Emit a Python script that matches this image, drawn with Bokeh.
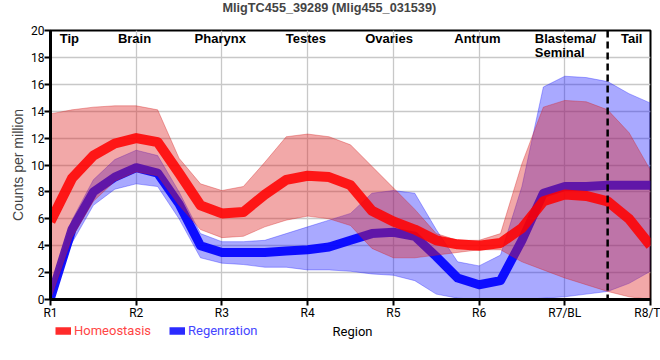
from bokeh.plotting import figure
from bokeh.layouts import column
from bokeh.models import ColumnDataSource, Legend, LegendItem, FixedTicker, Span
from bokeh.core.properties import value
from bokeh.embed import file_html
from bokeh.resources import INLINE

# ---- data ----
positions = [1.0, 1.25, 1.5, 1.75, 2.0, 2.25, 2.5, 2.75, 3.0, 3.25, 3.5, 3.75, 4.0, 4.25,
             4.5, 4.75, 5.0, 5.25, 5.5, 5.75, 6.0, 6.25, 6.5, 6.75, 7.0, 7.25, 7.5, 7.75, 8.0]

homeo_mean = [5.8, 9.0, 10.7, 11.6, 12.0, 11.7, 9.4, 7.0, 6.4, 6.5, 7.8, 8.9, 9.2, 9.1,
              8.5, 6.6, 5.8, 5.2, 4.4, 4.1, 4.0, 4.2, 5.3, 7.3, 7.8, 7.7, 7.3, 6.0, 4.0]
homeo_hi = [13.8, 14.1, 14.3, 14.4, 14.4, 14.1, 10.5, 8.6, 8.1, 8.4, 10.2, 12.1, 12.3, 12.1,
            11.5, 9.9, 8.3, 6.7, 4.9, 4.4, 4.4, 4.9, 10.1, 14.3, 14.8, 14.7, 14.1, 12.4, 9.6]
homeo_lo = [0.0, 4.6, 7.3, 8.8, 9.5, 9.2, 7.0, 5.2, 4.6, 4.7, 5.4, 5.9, 6.2, 6.0,
            5.5, 3.8, 3.1, 3.1, 3.3, 3.5, 3.7, 3.7, 2.8, 2.2, 1.6, 1.1, 0.6, 0.2, 0.0]

regen_mean = [0.1, 5.2, 8.0, 9.1, 9.8, 9.4, 7.1, 4.0, 3.5, 3.5, 3.5, 3.6, 3.7, 3.9,
              4.4, 4.9, 5.0, 4.7, 3.2, 1.6, 1.1, 1.4, 4.4, 7.9, 8.4, 8.4, 8.5, 8.5, 8.5]
regen_hi = [0.4, 5.9, 8.9, 10.4, 11.1, 10.7, 8.0, 4.9, 4.3, 4.3, 4.4, 4.9, 5.4, 5.9,
            6.4, 7.9, 8.1, 7.9, 5.2, 2.8, 2.5, 3.3, 8.4, 15.8, 16.6, 16.5, 16.2, 15.3, 14.6]
regen_lo = [0.0, 4.2, 7.0, 8.2, 8.6, 8.4, 6.0, 3.1, 2.7, 2.6, 2.4, 2.4, 2.2, 2.2,
            2.1, 1.9, 1.8, 1.4, 0.4, 0.1, 0.0, 0.0, 0.0, 0.1, 0.2, 0.4, 0.6, 1.2, 2.1]

region_ticks = [1, 2, 3, 4, 5, 6, 7, 8]
region_tick_labels = ["R1", "R2", "R3", "R4", "R5", "R6", "R7/BL", "R8/T"]
y_ticks = [0, 2, 4, 6, 8, 10, 12, 14, 16, 18, 20]

tissue_names = ["Tip", "Brain", "Pharynx", "Testes", "Ovaries", "Antrum", "Tail"]
tissue_x = [1.22, 1.98, 2.98, 3.98, 4.95, 5.98, 7.78]
blastema_name = "Blastema/\nSeminal"
blastema_x = 6.65
tail_boundary = 7.5

chart_title = "MligTC455_39289 (Mlig455_031539)"
series_names = ["Homeostasis", "Regenration"]
x_axis_title = "Region"

RED, BLUE = "#ff0000", "#0000ff"
W = 660
TOP_H, MAIN_H, LEG_H = 20, 302, 38
FL, FR = 50, 10  # frame borders (px)

# ---- title strip ----
t = figure(width=W, height=TOP_H, output_backend="svg", toolbar_location=None,
           x_axis_location=None, y_axis_location=None,
           min_border_left=FL, min_border_right=FR, min_border_top=0, min_border_bottom=0,
           outline_line_color=None, background_fill_color="white", border_fill_color="white")
t.grid.visible = False
t.title.text = chart_title
t.title.align = "left"
t.title.offset = 172
t.title.vertical_align = "top"
t.title.standoff = 0
t.title.text_font = "Liberation Sans"
t.title.text_font_style = "bold"
t.title.text_font_size = "12.7px"

# ---- main figure ----
src = ColumnDataSource(dict(x=positions,
                            hm=homeo_mean, hh=homeo_hi, hl=homeo_lo,
                            rm=regen_mean, rh=regen_hi, rl=regen_lo))

p = figure(width=W, height=MAIN_H, x_range=(1, 8), y_range=(0, 20),
           output_backend="svg", toolbar_location=None,
           min_border_left=FL, min_border_right=FR, min_border_top=30 - TOP_H,
           min_border_bottom=22,
           background_fill_color="white", border_fill_color="white")

# bands and lines (blue first, red drawn over it)
p.varea(x="x", y1="rl", y2="rh", source=src, fill_color="#1010ff", fill_alpha=0.36)
p.line(x="x", y="rh", source=src, line_color="#2020ff", line_alpha=0.35, line_width=1)
p.line(x="x", y="rl", source=src, line_color="#2020ff", line_alpha=0.35, line_width=1)
p.line(x="x", y="rm", source=src, line_color=BLUE, line_alpha=0.92,
       line_width=9, line_join="round")

p.varea(x="x", y1="hl", y2="hh", source=src, fill_color="#de2525", fill_alpha=0.4)
p.line(x="x", y="hh", source=src, line_color="#d42020", line_alpha=0.35, line_width=1)
p.line(x="x", y="hl", source=src, line_color="#d42020", line_alpha=0.35, line_width=1)
p.line(x="x", y="hm", source=src, line_color=RED, line_alpha=0.87,
       line_width=10, line_join="round")

p.add_layout(Span(location=tail_boundary, dimension="height", line_color="black",
                  line_width=2.5, line_dash="7 4"))

# tissue labels
p.text(x=tissue_x, y=[19.38] * len(tissue_x), text=tissue_names,
       text_font=value("Liberation Sans"), text_font_style="bold", text_font_size="13px",
       text_align="center", text_baseline="middle", text_color="black")
p.text(x=[blastema_x], y=[18.86], text=[blastema_name],
       text_font=value("Liberation Sans"), text_font_style="bold", text_font_size="13px",
       text_align="left", text_baseline="middle", text_color="black", text_line_height=0.92)

# axes
p.xaxis.ticker = FixedTicker(ticks=region_ticks)
p.xaxis.major_label_overrides = {t_: l for t_, l in zip(region_ticks, region_tick_labels)}
p.yaxis.ticker = FixedTicker(ticks=y_ticks)
for ax in (p.xaxis[0], p.yaxis[0]):
    ax.axis_line_width = 3
    ax.axis_line_color = "black"
    ax.major_tick_line_width = 2
    ax.major_tick_line_color = "black"
    ax.major_tick_out = 6
    ax.major_tick_in = 0
    ax.minor_tick_line_color = None
    ax.major_label_text_font = "Roboto"
    ax.major_label_text_font_size = "12px"
    ax.major_label_text_color = "black"
    ax.major_label_standoff = 0
p.yaxis.axis_label = "Counts per million"
p.yaxis.axis_label_text_font = "Liberation Sans"
p.yaxis.axis_label_text_font_size = "14px"
p.yaxis.axis_label_text_font_style = "normal"
p.yaxis.axis_label_standoff = 2

p.xgrid.ticker = FixedTicker(ticks=region_ticks)
p.ygrid.ticker = FixedTicker(ticks=y_ticks)
p.grid.grid_line_color = "#c8c8c8"
p.grid.grid_line_width = 1.3

p.outline_line_color = "black"
p.outline_line_width = 2

# ---- legend strip below (legends + x axis title on one row) ----
# frames of the stacked figures are aligned, so x here is in page pixels
q = figure(width=W, height=LEG_H, x_range=(FL, W - FR), y_range=(0, LEG_H),
           output_backend="svg", toolbar_location=None,
           x_axis_location=None, y_axis_location=None,
           min_border_left=FL, min_border_right=FR, min_border_top=0, min_border_bottom=0,
           outline_line_color=None, background_fill_color="white", border_fill_color="white")
q.grid.visible = False
nan = float("nan")
red_key = q.line(x=[nan], y=[nan], line_color="#ff2020", line_alpha=0.95, line_width=7.5)
blue_key = q.line(x=[nan], y=[nan], line_color="#2020ff", line_alpha=0.95, line_width=7.5)

for name, rend, col, loc in [(series_names[0], red_key, "#ff4545", (5, 22)),
                             (series_names[1], blue_key, "#4545ff", (119, 22))]:
    lg = Legend(items=[LegendItem(label=name, renderers=[rend])], location=loc,
                orientation="horizontal", label_text_color=col,
                label_text_font="Roboto", label_text_font_size="13px",
                glyph_width=16, glyph_height=15, label_standoff=3,
                padding=0, margin=0, border_line_color=None,
                background_fill_alpha=0, label_height=15)
    q.add_layout(lg, "center")

q.text(x=[(FL + W - FR) / 2 + 2], y=[LEG_H - 9], text=[x_axis_title],
       text_font=value("Roboto"), text_font_size="13px", text_align="center",
       text_baseline="middle", text_color="black")

layout = column(t, p, q, spacing=0)
open("out.html", "w").write(file_html(layout, INLINE))
